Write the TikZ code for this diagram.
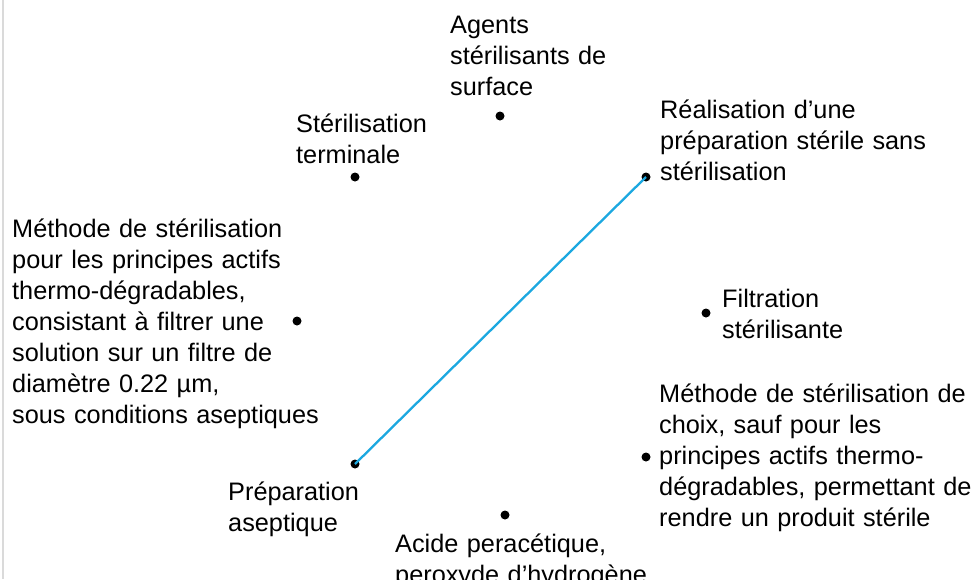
\documentclass[tikz,border=0pt]{standalone}
\usepackage{fontspec}
\setmainfont{Liberation Sans}
\definecolor{linkblue}{HTML}{1CA8E0}
\definecolor{edgegray}{HTML}{DADADA}
\begin{document}
\begin{tikzpicture}[x=1pt,y=-1pt,
  dot/.style={circle,fill=black,inner sep=0pt,minimum size=9pt},
  lbl/.style={anchor=base west,align=left,inner sep=0pt,text width=330pt,
    font=\fontsize{25.3}{31}\selectfont},
  link/.style={draw=linkblue,line width=2.3pt}]
\useasboundingbox (0,0) rectangle (977,579);
\draw[edgegray,line width=2pt] (3,0) -- (3,579);
% dots
\node[dot] (agents) at (500,116) {};
\node[dot] (terminale) at (355,177) {};
\node[dot] (realisation) at (646,177) {};
\node[dot] (methodeL) at (297,321) {};
\node[dot] (filtration) at (706,313) {};
\node[dot] (methodeR) at (646,457) {};
\node[dot] (aseptique) at (355,464) {};
\node[dot] (acide) at (505,515) {};
% connector
\draw[link] (aseptique.center) -- (realisation.center);
% labels
\node[lbl] (tAgents) at (450,33) {Agents\\stérilisants de\\surface};
\node[lbl] (tTerminale) at (296,132) {Stérilisation\\terminale};
\node[lbl] (tRealisation) at (660,118) {Réalisation d’une\\préparation stérile sans\\stérilisation};
\node[lbl] (tMethodeL) at (12,237) {Méthode de stérilisation\\pour les principes actifs\\thermo-dégradables,\\consistant à filtrer une\\solution sur un filtre de\\diamètre 0.22 µm,\\sous conditions aseptiques};
\node[lbl] (tFiltration) at (722,307) {Filtration\\stérilisante};
\node[lbl] (tMethodeR) at (659,402) {Méthode de stérilisation de\\choix, sauf pour les\\principes actifs thermo-\\dégradables, permettant de\\rendre un produit stérile};
\node[lbl] (tAseptique) at (228,500) {Préparation\\aseptique};
\node[lbl] (tAcide) at (395,552) {Acide peracétique,\\peroxyde d’hydrogène};
\end{tikzpicture}
\end{document}
